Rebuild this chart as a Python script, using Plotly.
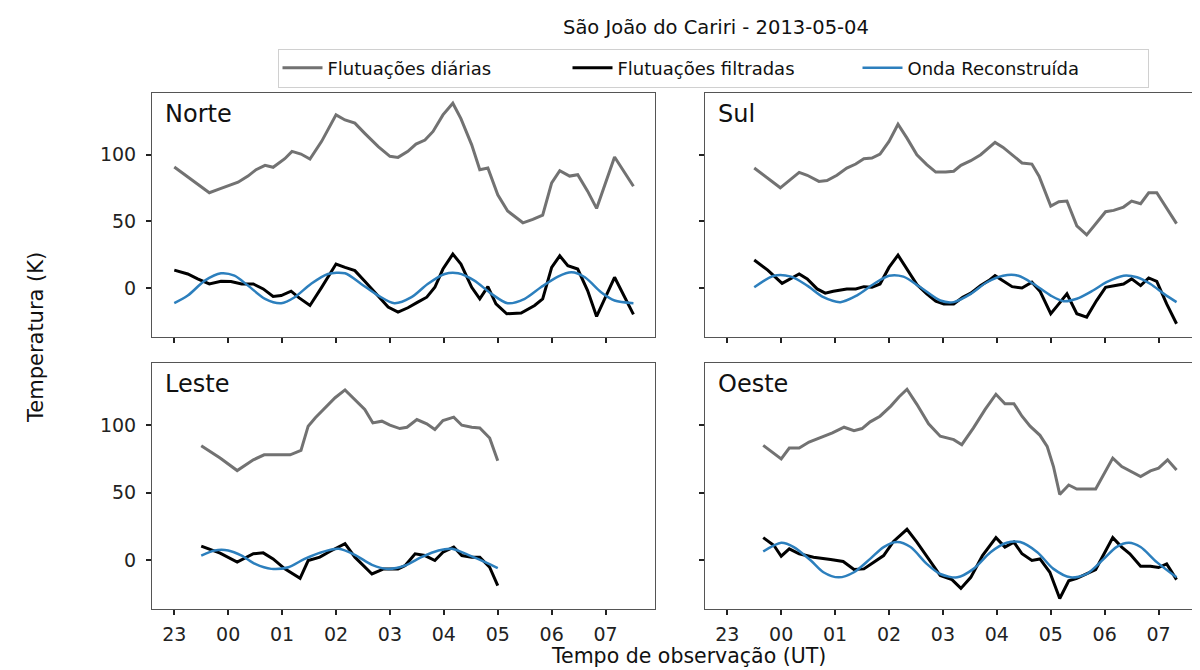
import plotly.graph_objects as go

# ---------------- data (minutes after 23:00 UT, temperature in K) ----------------
hour_ticks = [0, 60, 120, 180, 240, 300, 360, 420, 480]
hour_labels = ["23", "00", "01", "02", "03", "04", "05", "06", "07"]

# Norte
norte_t_grey = [0, 39, 49, 58, 71, 82, 91, 101, 110, 123, 131, 141, 151, 164, 180, 190, 201, 212, 227, 240,
                249, 260, 269, 279, 288, 299, 310, 319, 331, 340, 349, 360, 371, 388, 399, 410, 420, 429, 440, 449,
                460, 470, 490, 511]
norte_grey = [90.8, 71.5, 74, 76.4, 79.4, 84, 88.8, 92, 90.6, 97, 102.5, 100.5, 96.8, 110, 129.8, 126, 123.6, 116, 106, 98.8,
              98, 102.5, 108, 111, 117.4, 129.8, 138.5, 127, 107.4, 88.8, 90, 70, 57.8, 49, 51.6, 54.8, 78.9, 88, 84, 85,
              72.7, 59.8, 98.3, 76.4]
norte_t_filt = [0, 15, 26, 39, 52, 63, 75, 88, 99, 110, 119, 130, 139, 151, 164, 180, 190, 201, 212, 227,
                238, 249, 260, 271, 281, 290, 299, 310, 319, 331, 340, 349, 358, 370, 386, 401, 410, 420, 429, 438,
                449, 460, 470, 490, 511]
norte_filt = [13.6, 10.7, 7, 3.2, 5.2, 5, 3.2, 3.2, -0.5, -6.2, -5.5, -2.2, -7.2, -12.9, 0.7, 18.1, 15.6, 13.2, 5.2, -6.2,
              -14.1, -17.9, -14.6, -10.4, -6.7, 0.7, 14.4, 25.6, 18.1, 0.7, -7.9, 1.2, -11.7, -19.1, -18.6, -12.9, -7.9, 15.6, 24.3, 16.9,
              14.4, -1.7, -21.1, 8.2, -19.6]
norte_t_wave = [0, 15, 34, 52, 67, 82, 101, 119, 134, 152, 171, 190, 208, 227, 245, 264, 282, 301, 316, 334,
                353, 371, 390, 408, 427, 442, 457, 475, 490, 511]
norte_wave = [-11.2, -5.5, 5.7, 11.2, 9.4, 2, -7.9, -11.2, -6.7, 3.2, 10.7, 11.2, 3.2, -5.5, -11.2, -6.7, 3.2, 10.7, 11.2, 5.7,
              -4.2, -11.2, -7.9, 0.7, 8.7, 11.9, 8.2, -3, -9.2, -11.2]

# Sul
sul_t_grey = [30, 59, 80, 89, 102, 111, 122, 133, 143, 152, 161, 170, 180, 190, 200, 211, 222, 232, 243, 252,
              260, 271, 282, 291, 298, 307, 317, 328, 339, 347, 360, 369, 378, 389, 400, 410, 421, 430, 441, 450,
              460, 469, 478, 500]
sul_grey = [90, 75.2, 86.8, 84.6, 80, 80.6, 84.6, 90, 93, 97, 97.5, 100.5, 110, 122.8, 112.4, 100, 92.6, 87, 87, 87.6,
            92, 95.5, 100, 105, 109.2, 105.5, 100, 93.8, 93, 83.9, 61.5, 64.8, 65.3, 46.7, 40, 48.4, 57.3, 58.3, 60.8, 65.3,
            63.3, 71.5, 71.5, 48.4]
sul_t_filt = [30, 45, 61, 80, 89, 100, 109, 118, 133, 143, 152, 161, 170, 180, 190, 200, 211, 222, 232, 241,
              252, 262, 271, 282, 291, 298, 307, 317, 328, 339, 348, 360, 369, 378, 389, 400, 411, 421, 432, 441,
              450, 460, 469, 478, 489, 500]
sul_filt = [21.1, 13.6, 3.7, 10.7, 7, -0.5, -3.7, -2.2, -0.5, -0.5, 1.2, 0.7, 3.2, 15.6, 24.8, 14.4, 2.7, -4.2, -9.7, -11.7,
            -11.7, -6.7, -3.7, 2, 5.7, 9.4, 5.2, 1.2, 0.2, 4.5, -2.2, -19.1, -11.7, -4.2, -19.1, -21.6, -9.2, 0.7, 2, 3.2,
            7, 2, 7.7, 5.2, -11.7, -26.6]
sul_t_wave = [30, 52, 71, 89, 107, 126, 144, 163, 180, 196, 215, 237, 252, 271, 289, 307, 324, 341, 360, 374,
              389, 407, 422, 441, 456, 471, 486, 500]
sul_wave = [0.7, 9.4, 8.7, 2, -6.7, -10.4, -5.5, 3.2, 9.4, 8.7, 0.7, -9.2, -10.4, -4.2, 4.5, 9.4, 9.4, 3.2, -5.5, -9.7,
            -7.9, -1.7, 4.5, 9.4, 8.2, 3.2, -4.2, -10.4]

# Leste
leste_t_grey = [30, 51, 70, 88, 100, 116, 129, 141, 149, 157, 168, 179, 190, 201, 212, 221, 231, 240, 251, 259,
                270, 281, 290, 299, 311, 320, 331, 340, 351, 360]
leste_grey = [84.8, 75.6, 66.3, 74.3, 78, 78, 78, 81.3, 99.3, 105.5, 113, 120.4, 126.2, 119.2, 111.7, 101.7, 103, 100, 97.5, 98.5,
              104.2, 101, 96.8, 103.5, 106, 100, 98.5, 98, 90.5, 73.6]
leste_t_filt = [30, 51, 70, 88, 99, 110, 123, 140, 149, 162, 173, 190, 201, 220, 233, 249, 257, 268, 279, 290,
                299, 311, 320, 331, 340, 351, 360]
leste_filt = [10.2, 5, -1.7, 4.5, 5.2, 0.7, -6.7, -13.7, -0.5, 2, 6.2, 12, 2, -10.5, -6.7, -6.7, -4.2, 4.5, 3.2, -0.5,
              5.7, 9.5, 3.2, 2, 2, -5.5, -19.2]
leste_t_wave = [30, 45, 60, 75, 90, 108, 127, 145, 164, 183, 201, 220, 238, 257, 275, 294, 309, 327, 346, 360]
leste_wave = [3.2, 7, 7, 3.2, -3, -6.7, -5.5, 0.7, 5.7, 8.2, 3.7, -3.7, -6.7, -4.2, 2, 7, 8.2, 3.7, -1.7, -6.2]

# Oeste
oeste_t_grey = [40, 60, 69, 80, 91, 104, 117, 130, 141, 150, 159, 170, 182, 191, 200, 211, 224, 237, 252, 261,
                274, 287, 299, 309, 319, 328, 337, 348, 356, 363, 370, 380, 389, 410, 421, 429, 439, 448, 460, 471,
                480, 490, 500]
oeste_grey = [85, 75, 83, 83, 87.5, 91, 94.3, 98.5, 96, 97.5, 102.5, 106.7, 114.2, 121, 126.7, 115.5, 101, 91.8, 89.3, 85.5,
              98, 111.7, 123, 116, 116, 106.7, 99.3, 92.5, 84.3, 69.3, 48.6, 55.6, 52.6, 52.6, 65.6, 75.6, 69.3, 66.1, 61.8, 66.1,
              68.1, 74.3, 66.8]
oeste_t_filt = [40, 52, 60, 69, 80, 96, 115, 129, 141, 152, 163, 174, 185, 200, 211, 224, 237, 250, 260, 271,
                284, 299, 309, 319, 328, 339, 348, 359, 370, 380, 389, 410, 421, 429, 439, 448, 460, 471, 480, 489,
                500]
oeste_filt = [16.5, 10.7, 2.7, 8.2, 4.5, 2, 0.2, -1.2, -7.2, -6.7, -1.7, 3.2, 13.7, 22.7, 13.2, 0.7, -11.7, -14.7, -21.2, -13,
              3.2, 16.5, 9.5, 13.2, 4.5, -0.5, 0.7, -9.2, -28.7, -15.5, -13.7, -7.2, 6.2, 16.5, 9.5, 4.5, -4.7, -4.7, -5.7, -3,
              -14.7]
oeste_t_wave = [40, 60, 74, 93, 107, 124, 141, 159, 174, 189, 204, 222, 237, 256, 274, 293, 311, 326, 345, 363,
                382, 400, 419, 433, 447, 460, 478, 500]
oeste_wave = [6.2, 12.7, 9.5, -0.5, -9.2, -13, -9.2, 0.7, 9.5, 13.2, 9.5, -3, -10.5, -13, -6.7, 5.7, 12.7, 13.2, 5.7, -6.7,
              -13, -10.5, 0.7, 9.5, 12.7, 9.5, -1.7, -13]

panel_names = ["Norte", "Sul", "Leste", "Oeste"]
series_names = ["Flutuações diárias", "Flutuações filtradas", "Onda Reconstruída"]

# ---------------- styling ----------------
FONT = "DejaVu Sans"
C_GREY = "#727272"
C_BLACK = "#000000"
C_BLUE = "#2c7fbd"

W, H = 1200, 670
xdom = [[144 / W, 647 / W], [697 / W, 1.0]]
ydom = [[1 - 329 / H, 1 - 85 / H], [1 - 601 / H, 1 - 355 / H]]
XR = [-24.8, 535]
YR = [-36.5, 146.2]

panels = [
    (norte_t_grey, norte_grey, norte_t_filt, norte_filt, norte_t_wave, norte_wave),
    (sul_t_grey, sul_grey, sul_t_filt, sul_filt, sul_t_wave, sul_wave),
    (leste_t_grey, leste_grey, leste_t_filt, leste_filt, leste_t_wave, leste_wave),
    (oeste_t_grey, oeste_grey, oeste_t_filt, oeste_filt, oeste_t_wave, oeste_wave),
]

fig = go.Figure()
layout = {}
annotations = []
for i, (tg, g, tf, f, tw, w) in enumerate(panels):
    n = i + 1
    row, col = divmod(i, 2)
    xa = "x" if n == 1 else f"x{n}"
    ya = "y" if n == 1 else f"y{n}"
    first = (i == 0)
    fig.add_trace(go.Scatter(x=tg, y=g, mode="lines", name=series_names[0], legendgroup="a",
                             showlegend=first, line=dict(color=C_GREY, width=3), xaxis=xa, yaxis=ya))
    fig.add_trace(go.Scatter(x=tf, y=f, mode="lines", name=series_names[1], legendgroup="b",
                             showlegend=first, line=dict(color=C_BLACK, width=3), xaxis=xa, yaxis=ya))
    fig.add_trace(go.Scatter(x=tw, y=w, mode="lines", name=series_names[2], legendgroup="c",
                             showlegend=first, line=dict(color=C_BLUE, width=2.5, shape="spline", smoothing=0.8),
                             xaxis=xa, yaxis=ya))
    xkey = "xaxis" if n == 1 else f"xaxis{n}"
    ykey = "yaxis" if n == 1 else f"yaxis{n}"
    layout[xkey] = dict(domain=xdom[col], range=XR, anchor=ya, tickvals=hour_ticks, ticktext=hour_labels,
                        showticklabels=(row == 1), ticks="outside", ticklen=5, tickwidth=1.5, tickcolor="#222",
                        showline=True, mirror=True, linecolor="#555", linewidth=1, showgrid=False,
                        zeroline=False, ticklabelstandoff=3,
                        tickfont=dict(family=FONT, size=19, color="#222"))
    layout[ykey] = dict(domain=ydom[row], range=YR, anchor=xa, tickvals=[0, 50, 100],
                        showticklabels=(col == 0), ticks="outside", ticklen=5, tickwidth=1.5, tickcolor="#222",
                        showline=True, mirror=True, linecolor="#555", linewidth=1, showgrid=False,
                        zeroline=False, ticklabelstandoff=6,
                        tickfont=dict(family=FONT, size=19, color="#222"))
    annotations.append(dict(text=panel_names[i], xref=f"{xa} domain", yref=f"{ya} domain", x=0.022, y=0.915,
                            xanchor="left", yanchor="middle", showarrow=False,
                            font=dict(family=FONT, size=24, color="#111")))

annotations.append(dict(text="São João do Cariri - 2013-05-04", xref="paper", yref="paper",
                        x=708 / W, y=1 - 20 / H, xanchor="center", yanchor="middle", showarrow=False,
                        font=dict(family=FONT, size=19.5, color="#111")))
annotations.append(dict(text="Tempo de observação (UT)", xref="paper", yref="paper",
                        x=680 / W, y=1 - 648 / H, xanchor="center", yanchor="middle", showarrow=False,
                        font=dict(family=FONT, size=20.5, color="#111")))
annotations.append(dict(text="Temperatura (K)", xref="paper", yref="paper", textangle=-90,
                        x=28 / W, y=1 - 330 / H, xanchor="center", yanchor="middle", showarrow=False,
                        font=dict(family=FONT, size=21, color="#111")))

fig.update_layout(
    width=W, height=H,
    margin=dict(l=0, r=0, t=0, b=0),
    paper_bgcolor="white", plot_bgcolor="white",
    showlegend=True,
    legend=dict(orientation="h", x=705 / W, y=1 - 60 / H, xanchor="center", yanchor="middle",
                bordercolor="#d0d0d0", borderwidth=1, bgcolor="rgba(255,255,255,0.8)",
                font=dict(family=FONT, size=18, color="#111"), itemwidth=40, tracegroupgap=0,
                entrywidth=235, entrywidthmode="pixels"),
    annotations=annotations,
    **layout,
)

fig.write_html("out.html")
